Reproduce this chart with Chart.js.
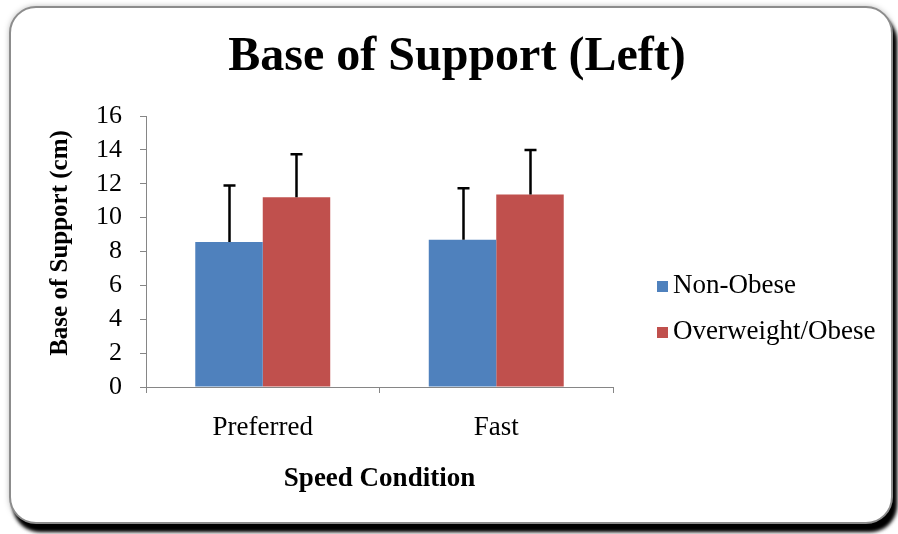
<!DOCTYPE html>
<html>
<head>
<meta charset="utf-8">
<script src="https://cdn.jsdelivr.net/npm/chart.js@4.4.1/dist/chart.umd.min.js"></script>
<style>
  html, body { margin: 0; padding: 0; background: #ffffff; }
  #wrap { width: 898px; height: 534px; position: relative; }
</style>
</head>
<body>
<div id="wrap"><canvas id="c" width="898" height="534"></canvas></div>
<script>
const categories = ["Preferred", "Fast"];
const seriesNames = ["Non-Obese", "Overweight/Obese"];
const nonObese = [8.56, 8.70];
const overweightObese = [11.20, 11.36];
const nonObeseErr = [3.34, 3.03];
const overweightObeseErr = [2.54, 2.63];
const yTicks = [0, 2, 4, 6, 8, 10, 12, 14, 16];
const chartTitle = "Base of Support (Left)";
const xTitle = "Speed Condition";
const yTitle = "Base of Support (cm)";

const colors = ["#4F81BD", "#C0504D"];
const serif = "'Liberation Serif', 'Times New Roman', serif";

const framePlugin = {
  id: 'frame',
  beforeDraw(chart) {
    const ctx = chart.ctx;
    ctx.save();
    ctx.fillStyle = '#ffffff';
    ctx.fillRect(0, 0, chart.width, chart.height);
    const x = 10, y = 7, w = 882, h = 516, r = 26;
    for (let k = 0; k < 2; k++) {
      ctx.beginPath();
      ctx.roundRect(x, y, w, h, r);
      ctx.shadowColor = 'rgba(0,0,0,1)';
      ctx.shadowBlur = 4;
      ctx.shadowOffsetX = 4;
      ctx.shadowOffsetY = 8;
      ctx.fillStyle = '#ffffff';
      ctx.fill();
    }
    ctx.beginPath();
    ctx.roundRect(x, y, w, h, r);
    ctx.shadowColor = 'rgba(0,0,0,0.35)';
    ctx.shadowBlur = 6;
    ctx.shadowOffsetX = 0;
    ctx.shadowOffsetY = 0;
    ctx.fill();
    ctx.shadowColor = 'transparent';
    ctx.lineWidth = 2;
    ctx.strokeStyle = '#8c8c8c';
    ctx.stroke();
    ctx.restore();
  },
  afterDraw(chart) {
    const ctx = chart.ctx;
    const area = chart.chartArea;
    ctx.save();
    ctx.fillStyle = '#000000';
    ctx.font = "bold 48px " + serif;
    ctx.textAlign = 'center';
    ctx.textBaseline = 'alphabetic';
    ctx.fillText(chartTitle, 457, 70);
    ctx.font = "bold 27px " + serif;
    ctx.fillText(xTitle, (area.left + area.right) / 2, 486);
    ctx.save();
    ctx.translate(67, 243);
    ctx.rotate(-Math.PI / 2);
    ctx.font = "bold 25px " + serif;
    ctx.fillText(yTitle, 0, 0);
    ctx.restore();
    ctx.font = "27px " + serif;
    ctx.textAlign = 'left';
    const baselines = [293, 339];
    chart.data.datasets.forEach((ds, i) => {
      ctx.fillStyle = ds.backgroundColor;
      ctx.fillRect(657, baselines[i] - 12, 11, 11);
      ctx.fillStyle = '#000000';
      ctx.fillText(ds.label, 673, baselines[i]);
    });
    ctx.restore();
  }
};

const errorBarPlugin = {
  id: 'errbars',
  afterDatasetsDraw(chart) {
    const ctx = chart.ctx;
    const yScale = chart.scales.y;
    ctx.save();
    ctx.strokeStyle = '#000000';
    ctx.lineWidth = 2.5;
    chart.data.datasets.forEach((ds, di) => {
      const meta = chart.getDatasetMeta(di);
      meta.data.forEach((bar, i) => {
        const v = ds.data[i];
        const top = yScale.getPixelForValue(v + ds.errors[i]);
        const base = yScale.getPixelForValue(v);
        const x = Math.round(bar.x) + 0.5;
        ctx.beginPath();
        ctx.moveTo(x, base);
        ctx.lineTo(x, top);
        ctx.moveTo(x - 6, top);
        ctx.lineTo(x + 6, top);
        ctx.stroke();
      });
    });
    ctx.restore();
  }
};

new Chart(document.getElementById('c'), {
  type: 'bar',
  data: {
    labels: categories,
    datasets: [
      { label: seriesNames[0], data: nonObese, errors: nonObeseErr, backgroundColor: colors[0], borderWidth: 0 },
      { label: seriesNames[1], data: overweightObese, errors: overweightObeseErr, backgroundColor: colors[1], borderWidth: 0 }
    ]
  },
  options: {
    responsive: false,
    animation: false,
    events: [],
    layout: { padding: { left: 0, top: 116, right: 285, bottom: 0 } },
    datasets: { bar: { categoryPercentage: 0.578, barPercentage: 1.0 } },
    plugins: {
      legend: { display: false },
      title: { display: false },
      tooltip: { enabled: false }
    },
    scales: {
      x: {
        offset: true,
        grid: { offset: true, drawOnChartArea: false, drawTicks: true, tickLength: 6, color: '#868686' },
        border: { color: '#868686', width: 1 },
        ticks: { color: '#000000', font: { family: serif, size: 27 }, padding: 19, autoSkip: false, maxRotation: 0 },
        afterFit(scale) { scale.height = 147; }
      },
      y: {
        min: 0,
        max: 16,
        afterBuildTicks(scale) { scale.ticks = yTicks.map(v => ({ value: v })); },
        grid: { drawOnChartArea: false, drawTicks: true, tickLength: 6, color: '#868686' },
        border: { color: '#868686', width: 1 },
        ticks: { color: '#000000', font: { family: serif, size: 26 }, padding: 18, autoSkip: false },
        afterFit(scale) { scale.width = 146; }
      }
    }
  },
  plugins: [framePlugin, errorBarPlugin]
});
</script>
</body>
</html>
